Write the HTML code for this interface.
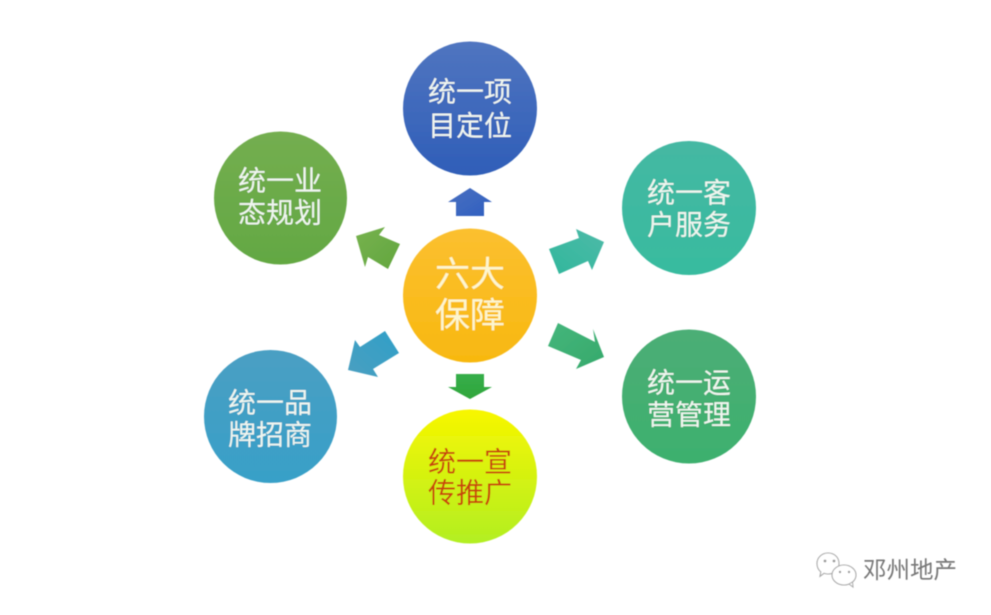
<!DOCTYPE html>
<html lang="zh-CN">
<head>
<meta charset="utf-8">
<title>六大保障</title>
<style>
html,body{margin:0;padding:0;background:#fff;width:991px;height:615px;overflow:hidden}
svg{display:block}
text{font-family:"Liberation Sans","Noto Sans CJK SC",sans-serif;text-anchor:middle;dominant-baseline:central}
</style>
</head>
<body>
<svg width="991" height="615" viewBox="0 0 991 615" xmlns="http://www.w3.org/2000/svg">
<defs>
<filter id="soft" x="-2%" y="-2%" width="104%" height="104%"><feGaussianBlur stdDeviation="0.5"/></filter>
<linearGradient id="gBlue" x1="0" y1="0" x2="0" y2="1"><stop offset="0" stop-color="#5075c0"/><stop offset="1" stop-color="#2f5eb8"/></linearGradient>
<linearGradient id="gGreen" x1="0" y1="0" x2="0" y2="1"><stop offset="0" stop-color="#74ae50"/><stop offset="1" stop-color="#63a843"/></linearGradient>
<linearGradient id="gTeal" x1="0" y1="0" x2="0" y2="1"><stop offset="0" stop-color="#45b8a3"/><stop offset="1" stop-color="#38bb9f"/></linearGradient>
<linearGradient id="gSky" x1="0" y1="0" x2="0" y2="1"><stop offset="0" stop-color="#4a9fc3"/><stop offset="1" stop-color="#38a0c8"/></linearGradient>
<linearGradient id="gSea" x1="0" y1="0" x2="0" y2="1"><stop offset="0" stop-color="#4cae76"/><stop offset="1" stop-color="#3db06e"/></linearGradient>
<linearGradient id="gYellow" x1="0" y1="0" x2="0" y2="1"><stop offset="0" stop-color="#f8f600"/><stop offset="1" stop-color="#b2ef22"/></linearGradient>
<linearGradient id="gOrange" x1="0" y1="0" x2="0" y2="1"><stop offset="0" stop-color="#fbc030"/><stop offset="1" stop-color="#f8b810"/></linearGradient>
<linearGradient id="aUp" x1="0" y1="0" x2="1" y2="1"><stop offset="0" stop-color="#4a70c0"/><stop offset="1" stop-color="#2f5fc0"/></linearGradient>
<linearGradient id="aDown" x1="0" y1="0" x2="0" y2="1"><stop offset="0" stop-color="#37ae4a"/><stop offset="1" stop-color="#2fa63c"/></linearGradient>
<linearGradient id="aLeft" x1="0" y1="0" x2="1" y2="1"><stop offset="0" stop-color="#77b24f"/><stop offset="1" stop-color="#62a63e"/></linearGradient>
<linearGradient id="aRight" x1="0" y1="1" x2="1" y2="0"><stop offset="0" stop-color="#31b79c"/><stop offset="1" stop-color="#4dbaa8"/></linearGradient>
<linearGradient id="aRD" x1="0" y1="0" x2="1" y2="1"><stop offset="0" stop-color="#45b67c"/><stop offset="1" stop-color="#36a96b"/></linearGradient>
<linearGradient id="aLD" x1="1" y1="0" x2="0" y2="1"><stop offset="0" stop-color="#30a0c8"/><stop offset="1" stop-color="#4a9fc0"/></linearGradient>
</defs>

<g filter="url(#soft)">
<!-- circles -->
<circle cx="470" cy="108.5" r="67" fill="url(#gBlue)"/>
<circle cx="280.500" cy="198" r="66.500" fill="url(#gGreen)"/>
<circle cx="689" cy="208" r="67" fill="url(#gTeal)"/>
<circle cx="689" cy="396.500" r="67" fill="url(#gSea)"/>
<circle cx="270.500" cy="416.500" r="66.500" fill="url(#gSky)"/>
<circle cx="470" cy="476.500" r="67" fill="url(#gYellow)"/>
<circle cx="470" cy="295.500" r="67" fill="url(#gOrange)"/>

<!-- arrows -->
<polygon points="470,188 492,202 484,202 484,216 456,216 456,202 448,202" fill="url(#aUp)"/>
<polygon points="456,374 484,374 484,387 492,387 470,399 448,387 456,387" fill="url(#aDown)"/>
<polygon points="356,236 385,227 379,235 400,244 388,269 368,257 365,267" fill="url(#aLeft)"/>
<polygon points="549,249 579,238 576,229 604,242 592,270 588,261 559,274" fill="url(#aRight)"/>
<polygon points="558,323 595,342 593,329 604,357 576,369 581,360 548,346" fill="url(#aRD)"/>
<polygon points="385,331 399,353 373,369 378,377 348,370 355,340 360,347" fill="url(#aLD)"/>

<!-- labels -->
<g fill="#f0f6f0" font-size="28">
<text x="470" y="92">统一项</text><text x="470" y="126">目定位</text>
<text x="280" y="181">统一业</text><text x="280" y="213">态规划</text>
<text x="689" y="193">统一客</text><text x="689" y="225">户服务</text>
<text x="689" y="383">统一运</text><text x="689" y="415">营管理</text>
<text x="270" y="403">统一品</text><text x="270" y="435">牌招商</text>
</g>
<g fill="#c8440a" font-size="28">
<text x="470" y="462">统一宣</text><text x="470" y="493">传推广</text>
</g>
<g fill="#fdf6d0" font-size="35">
<text x="470" y="275">六大</text><text x="470" y="316">保障</text>
</g>

<!-- watermark -->
<g fill="#fff" stroke="#a8a8a8" stroke-width="1.100">
<path d="M828 553c6.500 0 11 4.500 11 10.500s-4.500 10.500-11 10.500c-1.500 0-3-.3-4-.7l-4 3 .8-4.500c-2.500-2-3.800-5-3.800-8.300 0-6 5-10.500 11-10.500z"/>
<ellipse cx="844" cy="575" rx="12" ry="10"/>
</g>
<path d="M849 584l4 3-.5-5z" fill="#fff" stroke="#a8a8a8" stroke-width="1"/>
<g fill="#999"><circle cx="825" cy="561" r="1.400"/><circle cx="834" cy="561" r="1.400"/><circle cx="840" cy="572" r="1.200"/><circle cx="849" cy="572" r="1.200"/></g>
<text x="910" y="570" font-size="23.500" fill="#777">邓州地产</text>
</g>
</svg>
</body>
</html>
